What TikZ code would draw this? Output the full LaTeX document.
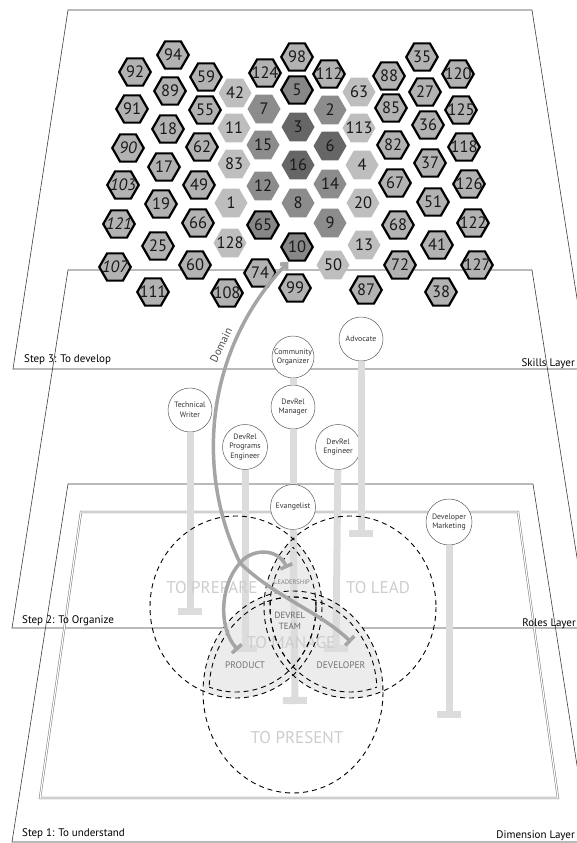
\documentclass[tikz,border=0pt]{standalone}
\usepackage{fontspec}
\setmainfont{PT Sans}
\usetikzlibrary{shapes.geometric,arrows.meta}
\definecolor{planec}{RGB}{60,60,60}
\definecolor{innerc}{RGB}{120,120,120}
\definecolor{hexA}{RGB}{178,178,178}
\definecolor{hexL}{RGB}{190,190,190}
\definecolor{hexM}{RGB}{140,140,140}
\definecolor{hexMB}{RGB}{135,135,135}
\definecolor{hexD}{RGB}{102,102,102}
\definecolor{hexT}{RGB}{25,25,25}
\definecolor{shadec}{RGB}{236,236,236}
\definecolor{stemc}{RGB}{220,220,220}
\definecolor{bigtxt}{RGB}{205,205,205}
\definecolor{domc}{RGB}{165,165,165}
\definecolor{rolec}{RGB}{90,90,90}
\newcommand\hexfont{\fontsize{16.5}{16.5}\selectfont}
\newcommand\rolefont{\fontsize{7.8}{9.8}\selectfont}
\tikzset{
  plane/.style={draw=planec, line width=0.6pt},
  hexbase/.style={regular polygon, regular polygon sides=6, inner sep=0pt, text=hexT, font=\hexfont},
  hexO/.style={hexbase, minimum size=31.5pt, fill=hexA, draw=black, line width=2.2pt},
  hexI/.style={hexO, font=\hexfont\itshape},
  hexMB/.style={hexbase, minimum size=31.5pt, fill=hexMB, draw=black, line width=2.2pt},
  hexL/.style={hexbase, minimum size=33pt, fill=hexL},
  hexM/.style={hexbase, minimum size=33pt, fill=hexM},
  hexD/.style={hexbase, minimum size=33pt, fill=hexD},
  role/.style={circle, draw=rolec, fill=white, line width=0.5pt, minimum size=44pt, inner sep=0pt, align=center, font=\rolefont, text=black!80},
  stem/.style={draw=stemc, line width=7pt, -{Bar[width=24pt]}},
  stemlink/.style={draw=stemc, line width=7pt},
  vdash/.style={draw=black, line width=0.9pt, dash pattern=on 5pt off 4pt},
  domline/.style={draw=domc, line width=3.5pt},
  branch/.style={domline, -{Bar[width=13pt]}},
  biglbl/.style={text=bigtxt, font=\fontsize{17}{17}\selectfont},
  steplbl/.style={text=black, font=\fontsize{11}{12}\selectfont, inner sep=0pt},
}
\begin{document}
\begin{tikzpicture}[x=1pt,y=-1pt]
\useasboundingbox (0,0) rectangle (577,843);
% ---------------- planes
\begin{scope}
\clip (0,0) rectangle (577,843);
\draw[plane] (68,10) -- (532,10) -- (588,369) -- (13,369) -- cycle;
\draw[plane] (68,270) -- (532,270) -- (588,628) -- (12,628) -- cycle;
\draw[plane] (68,484) -- (533,484) -- (589,842) -- (12,842) -- cycle;
\draw[draw=innerc, line width=0.5pt, double=white, double distance=1.2pt] (81,512) -- (518,512) -- (558,798) -- (40,798) -- cycle;
\end{scope}
% ---------------- Venn shading
\coordinate (cA) at (236,607);
\coordinate (cB) at (350,607);
\coordinate (cC) at (293,692);
\begin{scope}
\clip (cA) ellipse [x radius=86, y radius=91];
\fill[shadec] (cC) ellipse [x radius=90, y radius=101];
\fill[shadec] (cB) ellipse [x radius=86, y radius=91];
\end{scope}
\begin{scope}
\clip (cB) ellipse [x radius=86, y radius=91];
\fill[shadec] (cC) ellipse [x radius=90, y radius=101];
\end{scope}
% ---------------- roles and stems
\node[role, minimum size=42pt] (co) at (293,357) {Community\\Organizer};
\node[role] (adv) at (361,339) {Advocate};
\node[role] (tw) at (190,410) {Technical\\Writer};
\node[role] (dm) at (293,407) {DevRel\\Manager};
\node[role, minimum size=45pt] (dpe) at (245,447) {DevRel\\Programs\\Engineer};
\node[role, minimum size=45pt] (de) at (338,447) {DevRel\\Engineer};
\node[role, minimum size=45pt] (ev) at (293,507) {Evangelist};
\node[role, minimum size=46pt] (dmk) at (449,522) {Developer\\Marketing};
\coordinate (advE) at (361,537);
\coordinate (twE) at (190,615);
\coordinate (dpeE) at (245,652);
\coordinate (deE) at (336,652);
\coordinate (evE) at (295,704);
\coordinate (dmkE) at (449,718);
\draw[stem] (adv) -- (advE);
\draw[stem] (tw) -- (twE);
\draw[stem] (dpe) -- (dpeE);
\draw[stem] (de) -- (deE);
\draw[stemlink] (co) -- (dm);
\draw[stemlink] (dm) -- (ev);
\draw[stem] (ev) -- (evE);
\draw[stem] (dmk) -- (dmkE);
% ---------------- big labels
\node[biglbl] (lprep) at (212,588) {TO PREPARE};
\node[biglbl] (llead) at (378,588) {TO LEAD};
\node[biglbl] (lman) at (291,643) {TO MANAGE};
\node[biglbl] (lpres) at (297,738) {TO PRESENT};
% ---------------- dashed ellipses and inset lens outlines
\draw[vdash] (cA) ellipse [x radius=86, y radius=91];
\draw[vdash] (cB) ellipse [x radius=86, y radius=91];
\draw[vdash] (cC) ellipse [x radius=90, y radius=101];
\begin{scope}\clip (cA) ellipse [x radius=80, y radius=85];
  \draw[vdash] (cC) ellipse [x radius=84, y radius=95];
  \draw[vdash] (cB) ellipse [x radius=80, y radius=85]; \end{scope}
\begin{scope}\clip (cC) ellipse [x radius=84, y radius=95];
  \draw[vdash] (cA) ellipse [x radius=80, y radius=85];
  \draw[vdash] (cB) ellipse [x radius=80, y radius=85]; \end{scope}
\begin{scope}\clip (cB) ellipse [x radius=80, y radius=85];
  \draw[vdash] (cA) ellipse [x radius=80, y radius=85];
  \draw[vdash] (cC) ellipse [x radius=84, y radius=95]; \end{scope}
% ---------------- small Venn labels
\node[text=black!50, font=\fontsize{6.5}{7}\selectfont] (lldr) at (292,582) {LEADERSHIP};
\node[text=black!60, font=\fontsize{9}{11}\selectfont, align=center] (lteam) at (290,621) {DEVREL\\TEAM};
\node[text=black!55, font=\fontsize{9.5}{11}\selectfont] (lprod) at (245,665) {PRODUCT};
\node[text=black!55, font=\fontsize{9.5}{11}\selectfont] (ldev) at (341,665) {DEVELOPER};
% ---------------- hexes
\foreach \n/\x/\y in {94/173/55, 92/135/72, 89/170/91, 59/206/77, 91/132/109, 55/205/110, 18/168/129, 62/202/147, 17/164/167, 49/199/185, 19/161/204, 66/198/223, 25/158/246, 60/195/265, 111/153/292, 108/227/293, 74/260/273, 99/295/288, 124/265/73, 98/297/57, 112/329/74, 88/389/76, 35/422/57, 120/458/74, 27/425/92, 85/391/108, 125/461/110, 36/428/125, 82/393/145, 118/464/147, 37/430/163, 67/395/183, 126/469/184, 51/433/202, 68/398/225, 122/473/223, 41/437/245, 72/400/265, 127/477/265, 87/366/290, 38/441/292}
  \node[hexO] (h\n) at (\x,\y) {\makebox[0pt]{\n}};
\foreach \n/\x/\y in {90/128/148, 103/123/185, 121/119/224, 107/115/267}
  \node[hexI] (h\n) at (\x,\y) {\makebox[0pt]{\n}};
\foreach \n/\x/\y in {5/297/90, 65/263/225, 10/297/247}
  \node[hexMB] (h\n) at (\x,\y) {\makebox[0pt]{\n}};
\foreach \n/\x/\y in {42/235/93, 11/234/128, 83/234/164, 1/231/203, 128/230/243, 63/359/92, 113/359/128, 4/362/165, 20/363/203, 13/364/245, 50/333/265}
  \node[hexL] (h\n) at (\x,\y) {\makebox[0pt]{\n}};
\foreach \n/\x/\y in {7/264/109, 15/263/145, 12/263/186, 2/330/110, 14/330/184, 9/330/223, 8/298/203}
  \node[hexM] (h\n) at (\x,\y) {\makebox[0pt]{\n}};
\foreach \n/\x/\y in {3/298/127, 16/298/165, 6/330/146}
  \node[hexD] (h\n) at (\x,\y) {\makebox[0pt]{\n}};
% ---------------- domain connectors
\coordinate (J) at (240,563);
\coordinate (ldrE) at (287,568);
\coordinate (prodE) at (238,650);
\coordinate (devE) at (351,642);
\draw[domline, -{Straight Barb[length=5pt,width=9pt]}] (J) .. controls (195,470) and (205,350) .. (h10.240);
\draw[branch] (J) .. controls (252,548) and (278,548) .. (ldrE);
\draw[branch] (J) .. controls (220,585) and (218,628) .. (prodE);
\draw[branch] (J) .. controls (275,597) and (320,612) .. (devE);
\node[text=black!70, font=\fontsize{11}{12}\selectfont, rotate=64, inner sep=1pt] (ldom) at (221,345) {Domain};
% ---------------- plane labels
\node[steplbl, anchor=base west] (s3) at (24,362) {Step 3: To develop};
\node[steplbl, anchor=base east] (sk) at (575,366) {Skills Layer};
\node[steplbl, anchor=base west] (s2) at (22,623) {Step 2: To Organize};
\node[steplbl, anchor=base east] (rl) at (576,626) {Roles Layer};
\node[steplbl, anchor=base west] (s1) at (22,836) {Step 1: To understand};
\node[steplbl, anchor=base east] (dl) at (575,838) {Dimension Layer};
\end{tikzpicture}
\end{document}
